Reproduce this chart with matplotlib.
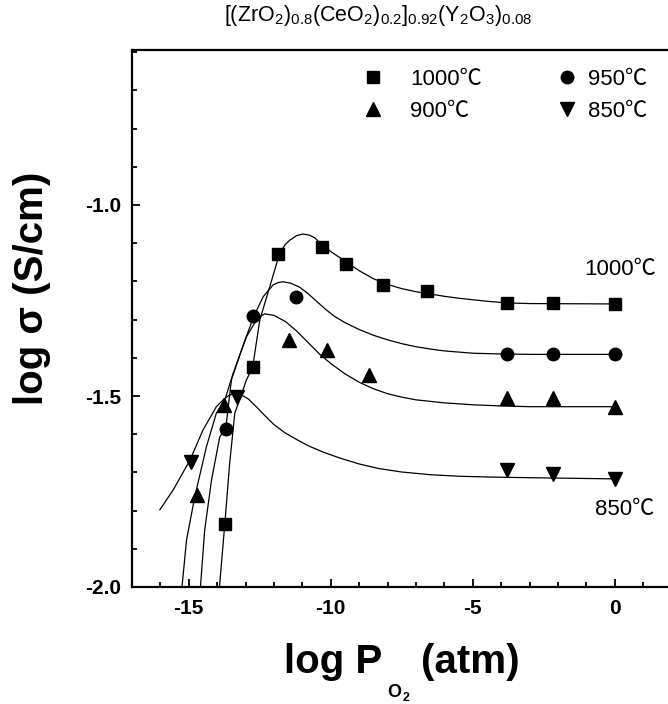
import numpy as np
import matplotlib
matplotlib.use('Agg')
import matplotlib.pyplot as plt
from matplotlib.lines import Line2D

plt.rcParams['font.family'] = ['Liberation Sans', 'Noto Sans CJK SC', 'DejaVu Sans']
plt.rcParams['mathtext.fontset'] = 'custom'
plt.rcParams['mathtext.rm'] = 'Liberation Sans'
plt.rcParams['mathtext.it'] = 'Liberation Sans:italic'
plt.rcParams['mathtext.bf'] = 'Liberation Sans:bold'

# ---------------- data ----------------
labels = ['1000℃', '950℃', '900℃', '850℃']
markers = ['s', 'o', '^', 'v']

# measured points
x_1000 = [-13.73, -12.74, -11.86, -10.31, -9.47, -8.16, -6.60, -3.81, -2.19, 0.0]
y_1000 = [-1.835, -1.425, -1.128, -1.109, -1.154, -1.209, -1.224, -1.256, -1.257, -1.259]
x_950 = [-13.70, -12.74, -11.21, -3.81, -2.19, 0.0]
y_950 = [-1.587, -1.290, -1.240, -1.390, -1.391, -1.391]
x_900 = [-14.71, -13.76, -11.48, -10.12, -8.65, -3.81, -2.19, 0.0]
y_900 = [-1.759, -1.524, -1.353, -1.380, -1.445, -1.506, -1.506, -1.528]
x_850 = [-14.92, -13.29, -3.81, -2.19, 0.0]
y_850 = [-1.672, -1.502, -1.694, -1.704, -1.717]

# fitted curves
cx_1000 = [-13.92, -13.73, -13.56, -13.38, -12.97, -12.75, -12.50, -12.15, -11.80, -11.60, -11.44,
           -11.20, -10.98, -10.75, -10.56, -10.40, -10.0, -9.5, -9.0, -8.5, -8.0, -7.5, -7.0, -6.5,
           -6.0, -5.5, -5.0, -4.5, -4.0, -3.5, -3.0, 0.0]
cy_1000 = [-2.0, -1.833, -1.675, -1.545, -1.458, -1.424, -1.301, -1.214, -1.126, -1.103, -1.092,
           -1.080, -1.076, -1.079, -1.086, -1.098, -1.122, -1.147, -1.172, -1.193, -1.208, -1.219,
           -1.227, -1.233, -1.239, -1.244, -1.248, -1.252, -1.255, -1.257, -1.258, -1.259]
cx_950 = [-14.59, -14.44, -14.20, -13.91, -13.70, -13.50, -13.10, -12.71, -12.38, -12.03, -11.85, -11.68,
          -11.40, -11.10, -10.80, -10.50, -10.20, -9.90, -9.50, -9.00, -8.50, -8.00, -7.50, -7.00,
          -6.50, -6.00, -5.00, -4.00, -3.00, 0.0]
cy_950 = [-2.0, -1.851, -1.720, -1.607, -1.586, -1.458, -1.370, -1.291, -1.240, -1.209, -1.203, -1.201,
          -1.205, -1.215, -1.232, -1.252, -1.272, -1.290, -1.308, -1.326, -1.341, -1.353, -1.363, -1.371,
          -1.377, -1.382, -1.388, -1.390, -1.391, -1.391]
cx_900 = [-15.24, -15.08, -14.79, -14.38, -14.03, -13.73, -13.44, -12.97, -12.62, -12.45, -12.32, -12.00,
          -11.60, -11.20, -10.80, -10.40, -10.00, -9.50, -9.00, -8.50, -8.00, -7.50, -7.00, -6.00,
          -5.00, -4.00, -3.00, 0.0]
cy_900 = [-2.0, -1.877, -1.764, -1.633, -1.545, -1.510, -1.441, -1.345, -1.301, -1.290, -1.285, -1.289,
          -1.305, -1.330, -1.360, -1.390, -1.415, -1.442, -1.464, -1.481, -1.494, -1.503, -1.510, -1.518,
          -1.523, -1.526, -1.528, -1.528]
cx_850 = [-16.02, -15.55, -14.96, -14.50, -14.03, -13.75, -13.56, -13.38, -13.20, -12.90, -12.60,
          -12.30, -12.00, -11.60, -11.20, -10.80, -10.30, -9.70, -9.00, -8.30, -7.50, -6.50, -5.50,
          -4.50, -3.80, 0.0]
cy_850 = [-1.798, -1.746, -1.668, -1.589, -1.528, -1.507, -1.497, -1.494, -1.495, -1.508, -1.530,
          -1.553, -1.575, -1.597, -1.614, -1.630, -1.646, -1.662, -1.678, -1.690, -1.699, -1.706, -1.710,
          -1.712, -1.713, -1.717]

xticks = [-15, -10, -5, 0]
yticks = [-2.0, -1.5, -1.0]
title = r'[(ZrO$_{\mathregular{2}}$)$_{\mathregular{0.8}}$(CeO$_{\mathregular{2}}$)$_{\mathregular{0.2}}$]$_{\mathregular{0.92}}$(Y$_{\mathregular{2}}$O$_{\mathregular{3}}$)$_{\mathregular{0.08}}$'

# ---------------- figure ----------------
W, H = 668, 704
fig = plt.figure(figsize=(W / 100, H / 100), dpi=100)
ax = fig.add_axes([132 / W, 117 / H, 536 / W, 537 / H])
ax.set_xlim(-17.0, -17.0 + 536 / 28.4)
ax.set_ylim(-2.0, -2.0 + 537 / 382)

curves = [(cx_1000, cy_1000), (cx_950, cy_950), (cx_900, cy_900), (cx_850, cy_850)]
points = [(x_1000, y_1000), (x_950, y_950), (x_900, y_900), (x_850, y_850)]
msizes = [8.6, 9.0, 10.0, 10.0]

for (cx, cy) in curves:
    ax.plot(cx, cy, color='black', lw=0.9, zorder=2, solid_joinstyle='round')
for (px, py), m, ms in zip(points, markers, msizes):
    ax.plot(px, py, linestyle='none', marker=m, ms=ms, color='black', zorder=3, clip_on=False)

ax.spines['right'].set_visible(False)
for s in ['left', 'bottom', 'top']:
    ax.spines[s].set_linewidth(1.6)

ax.set_xticks(xticks)
ax.set_xticklabels([str(v) for v in xticks])
ax.set_xticks(np.arange(-16, 2, 1), minor=True)
ax.set_yticks(yticks)
ax.set_yticklabels(['%.1f' % v for v in yticks])
ax.set_yticks(np.arange(-1.9, -0.55, 0.1), minor=True)
ax.tick_params(which='both', direction='in', top=False, right=False, width=1.3)
ax.tick_params(which='major', length=6)
ax.tick_params(which='minor', length=3.6)
ax.tick_params(axis='x', pad=9)
ax.tick_params(axis='y', pad=8)
for lab in ax.get_xticklabels() + ax.get_yticklabels():
    lab.set_fontsize(15)
    lab.set_fontweight('bold')

# legends (two columns)
h = [Line2D([], [], linestyle='none', marker=m, ms=ms, color='black') for m, ms in zip(markers, msizes)]
leg1 = ax.legend([h[0], h[2]], [labels[0], labels[2]], loc='upper left',
                 bbox_to_anchor=(362 / W, 1 - 69 / H), bbox_transform=fig.transFigure,
                 frameon=False, fontsize=16, handlelength=1.0, handletextpad=1.15,
                 labelspacing=0.5, borderpad=0, borderaxespad=0)
ax.add_artist(leg1)
leg2 = ax.legend([h[1], h[3]], [labels[1], labels[3]], loc='upper left',
                 bbox_to_anchor=(556 / W, 1 - 69 / H), bbox_transform=fig.transFigure,
                 frameon=False, fontsize=16, handlelength=1.0, handletextpad=0.45,
                 labelspacing=0.5, borderpad=0, borderaxespad=0)

# curve labels
ax.text(-1.06, -1.170, labels[0], fontsize=16, ha='left', va='center')
ax.text(-0.70, -1.798, labels[3], fontsize=16, ha='left', va='center')

# title
fig.text(378 / W, 1 - 16 / H, title, fontsize=15.5, ha='center', va='center')

# y label
fig.text(32 / W, 1 - 288 / H, 'log σ (S/cm)', fontsize=29, fontweight='bold',
         rotation=90, ha='center', va='center')

# x label built from pieces
fig.canvas.draw()
r = fig.canvas.get_renderer()
base = 1 - 673 / H
t1 = fig.text(284 / W, base, 'log P', fontsize=29, fontweight='bold', ha='left', va='baseline')
bb = t1.get_window_extent(r)
t2 = fig.text((bb.x1 + 5) / W, 1 - 697 / H, 'O', fontsize=13, fontweight='bold', ha='left', va='baseline')
bb2 = t2.get_window_extent(r)
t3 = fig.text((bb2.x1 + 1) / W, 1 - 701 / H, '2', fontsize=9, fontweight='bold', ha='left', va='baseline')
bb3 = t3.get_window_extent(r)
fig.text((bb3.x1 + 12) / W, base, '(atm)', fontsize=29, fontweight='bold', ha='left', va='baseline')

fig.savefig('out.png', dpi=100)
